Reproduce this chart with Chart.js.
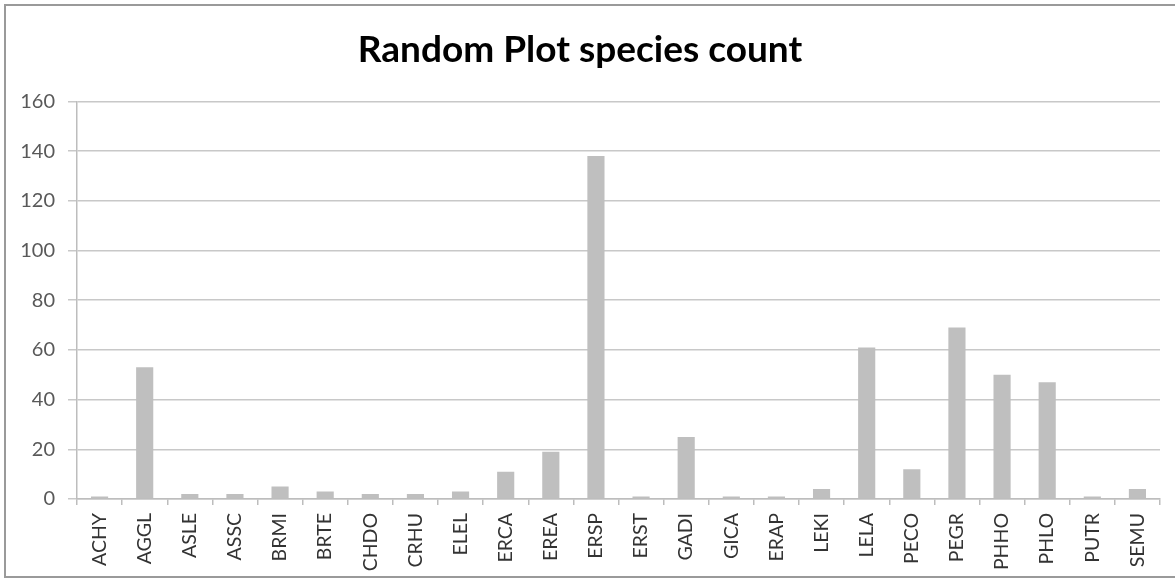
<!DOCTYPE html>
<html>
<head>
<meta charset="utf-8">
<title>Random Plot species count</title>
<script src="https://cdn.jsdelivr.net/npm/chart.js@4.4.0/dist/chart.umd.min.js"></script>
<style>
    html, body { margin: 0; padding: 0; background: #fff; }
    #wrap { position: relative; width: 1175px; height: 584px; overflow: hidden; }
    #frame {
        position: absolute; left: 4px; top: 4px; width: 1180px; height: 574px;
        border: 2px solid #9a9a9a; box-sizing: border-box; pointer-events: none;
    }
    #speciesChart { position: absolute; left: 0; top: 0; }
</style>
</head>
<body>
<div id="wrap">
    <canvas id="speciesChart" width="1175" height="584"></canvas>
    <div id="frame"></div>
</div>
<script>
// species codes along the x axis
const species = ["ACHY", "AGGL", "ASLE", "ASSC", "BRMI", "BRTE", "CHDO", "CRHU", "ELEL", "ERCA",
    "EREA", "ERSP", "ERST", "GADI", "GICA", "ERAP", "LEKI", "LELA", "PECO", "PEGR",
    "PHHO", "PHLO", "PUTR", "SEMU"];

// individuals counted in the random plots
const counts = [1, 53, 2, 2, 5, 3, 2, 2, 3, 11,
    19, 138, 1, 25, 1, 1, 4, 61, 12, 69,
    50, 47, 1, 4];

// y axis range
const yMin = 0;
const yMax = 160;
const yStep = 20;

const labelFont = "Lato, 'Open Sans', sans-serif";

document.addEventListener("DOMContentLoaded", function () {
    const ctx = document.getElementById("speciesChart").getContext("2d");
    new Chart(ctx, {
        type: "bar",
        data: {
            labels: species,
            datasets: [{
                label: "Count",
                data: counts,
                backgroundColor: "#bfbfbf",
                borderWidth: 0,
                barPercentage: 0.38,
                categoryPercentage: 1.0
            }]
        },
        options: {
            responsive: false,
            animation: false,
            devicePixelRatio: 1,
            layout: {
                padding: { left: 0, right: 15, top: 0, bottom: 0 }
            },
            plugins: {
                legend: { display: false },
                tooltip: { enabled: false },
                title: {
                    display: true,
                    text: "Random Plot species count",
                    color: "#000000",
                    font: { family: labelFont, size: 37, weight: "bold" },
                    padding: { top: 28, bottom: 29 }
                }
            },
            scales: {
                x: {
                    grid: {
                        display: true,
                        drawOnChartArea: false,
                        offset: true,
                        color: "#bdbdbd",
                        lineWidth: 1.5,
                        tickLength: 6
                    },
                    border: { display: true, color: "#bdbdbd", width: 1.5 },
                    ticks: {
                        autoSkip: false,
                        maxRotation: 90,
                        minRotation: 90,
                        padding: 8,
                        color: "#333333",
                        font: { family: labelFont, size: 19.5 }
                    },
                    afterFit: function (scale) {
                        scale.height = 85;
                    }
                },
                y: {
                    min: yMin,
                    max: yMax,
                    grid: {
                        color: "#c8c8c8",
                        lineWidth: 1.5,
                        tickLength: 9
                    },
                    border: { display: true, color: "#bdbdbd", width: 1.5 },
                    ticks: {
                        stepSize: yStep,
                        padding: 13,
                        color: "#595959",
                        font: { family: labelFont, size: 20 }
                    },
                    afterFit: function (scale) {
                        scale.width = 77;
                    }
                }
            }
        }
    });
});
</script>
</body>
</html>
